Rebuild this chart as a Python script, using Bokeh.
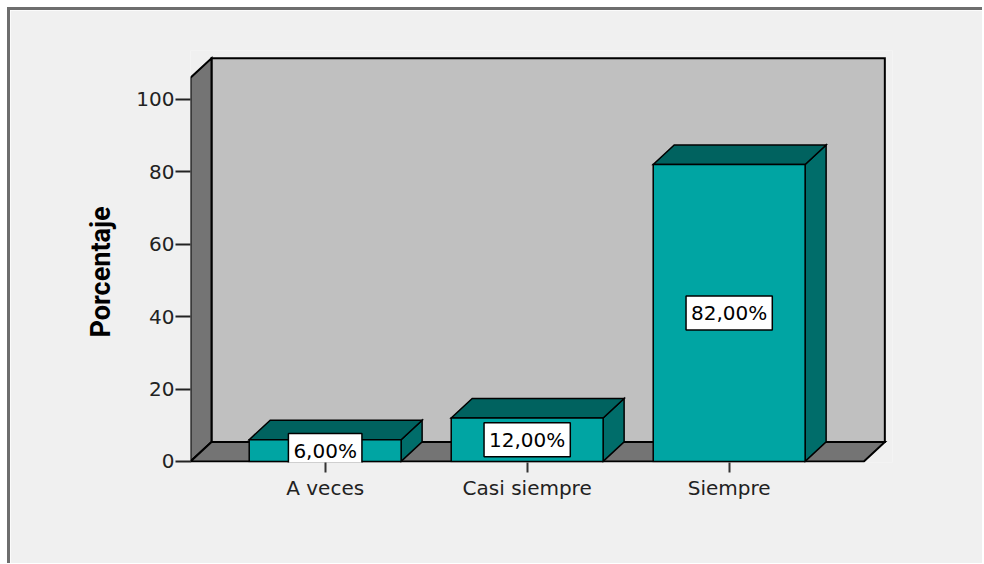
import numpy as np
from bokeh.plotting import figure
from bokeh.models import Range1d, FixedTicker, Title
from bokeh.core.properties import value
from bokeh.embed import file_html
from bokeh.resources import INLINE

# ---- data ----
categories = ["A veces", "Casi siempre", "Siempre"]
percentages = [6.0, 12.0, 82.0]
y_ticks = [0, 20, 40, 60, 80, 100]
y_label = "Porcentaje"

# ---- layout constants ----
W, H = 975, 556
PX_X = 202.0      # pixels per category unit
PX_Y = 3.62       # pixels per percentage unit
ML, MR, MT, MB = 180, 93, 40, 104
FW = W - ML - MR
FH = H - MT - MB
n = len(categories)
X0 = 1 - 2 / 3
X1 = n + 2 / 3
YT = 106.0                 # front top of the side wall
DX = 21 / PX_X             # depth offset (x)
DY = 19.5 / PX_Y           # depth offset (y)
HALF = 0.376               # half bar width
Y0 = -0.3

TEAL = "#00a5a3"
TEAL_TOP = "#00625f"
TEAL_SIDE = "#006d6a"
WALL_BACK = "#c0c0c0"
WALL_SIDE = "#747474"
FONT = "DejaVu Sans"

p = figure(width=W, height=H,
           x_range=Range1d(X0, X0 + FW / PX_X),
           y_range=Range1d(Y0, Y0 + FH / PX_Y),
           output_backend="svg", toolbar_location=None,
           min_border_left=ML, min_border_right=MR,
           min_border_top=MT, min_border_bottom=MB)

p.background_fill_color = "#f0f0f0"
p.border_fill_color = "#f0f0f0"
p.outline_line_color = None
p.xgrid.visible = False
p.ygrid.visible = False
p.styles = {"margin-left": "7px", "margin-top": "7px",
            "border-left": "3px solid #6e6e6e", "border-top": "3px solid #6e6e6e"}

# ---- walls ----
wall_kw = dict(line_color="black", line_width=2, line_join="miter")
p.patch([X0 + DX, X1 + DX, X1 + DX, X0 + DX], [DY, DY, YT + DY, YT + DY],
        fill_color=WALL_BACK, **wall_kw)
p.patch([X0, X0 + DX, X0 + DX, X0], [0, DY, YT + DY, YT],
        fill_color=WALL_SIDE, **wall_kw)
p.patch([X0, X1, X1 + DX, X0 + DX], [0, 0, DY, DY],
        fill_color=WALL_SIDE, **wall_kw)

# ---- bars ----
xs = [i + 1 for i in range(n)]
top_xs, top_ys, side_xs, side_ys = [], [], [], []
for xc, v in zip(xs, percentages):
    top_xs.append([xc - HALF, xc + HALF, xc + HALF + DX, xc - HALF + DX])
    top_ys.append([v, v, v + DY, v + DY])
    side_xs.append([xc + HALF, xc + HALF + DX, xc + HALF + DX, xc + HALF])
    side_ys.append([0, DY, v + DY, v])

bar_kw = dict(line_color="black", line_width=1.5, line_join="miter")
p.patches(side_xs, side_ys, fill_color=TEAL_SIDE, **bar_kw)
p.patches(top_xs, top_ys, fill_color=TEAL_TOP, **bar_kw)
p.vbar(x=xs, top=percentages, bottom=0, width=2 * HALF, fill_color=TEAL, **bar_kw)

labels = [f"{v:.2f}%".replace(".", ",") for v in percentages]
p.text(x=xs, y=[v / 2 for v in percentages], text=labels,
       text_align="center", text_baseline="middle",
       text_font=value(FONT), text_font_size=value("20px"), text_color="black",
       background_fill_color="white", border_line_color="black",
       border_line_width=1.5, padding=5)

# ---- axes ----
p.yaxis.ticker = FixedTicker(ticks=y_ticks)
p.yaxis.axis_line_color = None
p.yaxis.major_tick_out = 15
p.yaxis.major_tick_in = 0
p.yaxis.minor_tick_line_color = None
p.yaxis.major_tick_line_width = 2
p.yaxis.major_tick_line_color = "#222222"
p.yaxis.major_label_standoff = 1
p.yaxis.major_label_text_font = FONT
p.yaxis.major_label_text_font_size = "20px"
p.yaxis.major_label_text_color = "#222222"

p.xaxis.ticker = FixedTicker(ticks=xs)
p.xaxis.major_label_overrides = {x: c for x, c in zip(xs, categories)}
p.xaxis.axis_line_color = None
p.xaxis.major_tick_out = 10
p.xaxis.major_tick_in = 0
p.xaxis.minor_tick_line_color = None
p.xaxis.major_tick_line_width = 2
p.xaxis.major_tick_line_color = "#333333"
p.xaxis.major_label_standoff = 3
p.xaxis.major_label_text_font = FONT
p.xaxis.major_label_text_font_size = "20px"
p.xaxis.major_label_text_color = "#222222"

ttl = Title(text=y_label, align="left", offset=125, standoff=33,
            text_font="Roboto", text_font_style="bold",
            text_font_size="27px", text_color="black")
p.add_layout(ttl, "left")

open("out.html", "w").write(file_html(p, INLINE))
